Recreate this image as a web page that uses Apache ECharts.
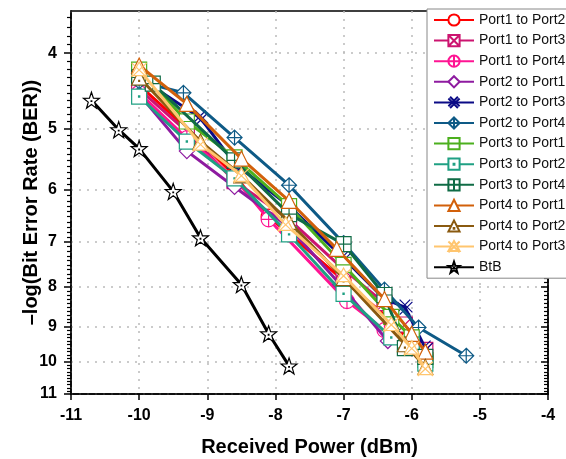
<!DOCTYPE html>
<html>
<head>
<meta charset="utf-8">
<script src="https://cdn.jsdelivr.net/npm/echarts@6/dist/echarts.min.js"></script>
<style>
html,body{margin:0;padding:0;background:#fff;}
#c{width:566px;height:459px;}
</style>
</head>
<body>
<div id="c"></div>
<script>
// ---- Data ----
var seriesNames = ['Port1 to Port2','Port1 to Port3','Port1 to Port4','Port2 to Port1','Port2 to Port3','Port2 to Port4','Port3 to Port1','Port3 to Port2','Port3 to Port4','Port4 to Port1','Port4 to Port2','Port4 to Port3','BtB'];

var p12 = [[-10,4.40],[-9.3,5.00],[-8.6,5.75],[-8.1,6.50],[-7.0,7.85],[-6.3,8.85],[-6.05,9.35],[-5.8,9.80]];
var p13 = [[-10,4.45],[-9.3,5.05],[-8.6,5.85],[-7.8,6.55],[-7.0,7.60],[-6.4,8.40],[-6.1,8.95],[-5.8,9.65]];
var p14 = [[-10,4.50],[-9.3,5.15],[-8.6,5.80],[-8.1,6.55],[-6.95,8.35],[-6.4,9.10],[-6.0,9.60],[-5.8,10.05]];
var p21 = [[-10,4.52],[-9.3,5.35],[-8.6,5.95],[-7.8,6.70],[-7.05,7.95],[-6.35,9.40],[-6.0,9.55],[-5.8,9.90]];
var p23 = [[-10,4.30],[-9.1,4.85],[-8.6,5.55],[-7.8,6.30],[-7.0,7.35],[-6.4,8.30],[-6.1,8.50],[-5.8,9.60]];
var p24 = [[-10,4.35],[-9.35,4.50],[-8.6,5.14],[-7.8,5.92],[-7.0,7.03],[-6.4,8.07],[-5.9,9.03],[-5.2,9.82]];
var p31 = [[-10,4.20],[-9.3,4.90],[-8.6,5.45],[-7.8,6.30],[-7.0,7.50],[-6.3,8.75],[-6.0,9.30],[-5.8,9.95]];
var p32 = [[-10,4.55],[-9.3,5.20],[-8.6,5.80],[-7.8,6.85],[-7.0,8.17],[-6.3,9.30],[-6.0,9.50],[-5.8,10.05]];
var p34 = [[-10,4.30],[-9.8,4.38],[-8.6,5.50],[-7.8,6.45],[-7.0,7.05],[-6.4,8.20],[-6.1,9.60],[-5.8,9.85]];
var p41 = [[-10,4.15],[-9.3,4.65],[-8.5,5.47],[-7.8,6.20],[-7.1,7.15],[-6.4,8.30],[-6.0,9.20],[-5.8,9.70]];
var p42 = [[-10,4.30],[-9.1,5.20],[-8.5,5.75],[-7.8,6.60],[-7.0,7.80],[-6.1,9.49],[-5.8,10.15]];
var p43 = [[-10,4.20],[-9.1,5.24],[-8.5,5.75],[-7.85,6.65],[-7.0,7.74],[-6.3,8.95],[-6.0,9.60],[-5.8,10.20]];
var btb = [[-10.7,4.60],[-10.3,5.02],[-10.0,5.31],[-9.5,6.03],[-9.1,6.92],[-8.5,7.95],[-8.1,9.20],[-7.8,10.12]];

var xTicks = [-11,-10,-9,-8,-7,-6,-5,-4];
var yTicks = [4,5,6,7,8,9,10,11];
var yMinorTicks = [3.6,3.7,3.8,3.9,4.1,4.2,4.3,4.4,4.5,4.6,4.7,4.8,4.9,5.1,5.2,5.3,5.4,5.5,5.6,5.7,5.8,5.9,6.1,6.2,6.3,6.4,6.5,6.6,6.7,6.8,6.9,7.1,7.2,7.3,7.4,7.5,7.6,7.7,7.8,7.9,8.1,8.2,8.3,8.4,8.5,8.6,8.7,8.8,8.9,9.1,9.2,9.3,9.4,9.5,9.6,9.7,9.8,9.9,10.1,10.2,10.3,10.4,10.5,10.6,10.7,10.8,10.9];

var allData = [p12,p13,p14,p21,p23,p24,p31,p32,p34,p41,p42,p43,btb];

// ---- Styles ----
var colors = ['#FF0000','#CC1470','#FF1493','#8E1BA0','#0B0B86','#0E5A86','#4CB01E','#1FA083','#0F6B45','#D2600A','#8A5A10','#FFC56E','#000000'];
var symbols = [
  'circle',
  'path://M0,0L10,0L10,10L0,10ZM0,0L10,10M10,0L0,10',
  'path://M0,5A5,5,0,1,1,10,5A5,5,0,1,1,0,5ZM5,0L5,10M0,5L10,5',
  'diamond',
  'path://M0,1.5L8.5,10M1.5,0L10,8.5M10,1.5L1.5,10M8.5,0L0,8.5',
  'path://M5,0L10,5L5,10L0,5ZM5,0L5,10M0,5L10,5',
  'path://M0,0L10,0L10,10L0,10ZM0,5L10,5',
  'path://M0,0L10,0L10,10L0,10ZM4.6,4.6L5.4,4.6L5.4,5.4L4.6,5.4Z',
  'path://M0,0L10,0L10,10L0,10ZM5,0L5,10M0,5L10,5',
  'triangle',
  'path://M5,0L10,9L0,9ZM4.7,6.2L5.3,6.2L5.3,6.8L4.7,6.8Z',
  'path://M5,0L10,9L0,9ZM0,0.5L10,10M10,0.5L0,10',
  'path://M5,0.25L6.18,3.63L9.76,3.7L6.9,5.87L7.94,9.3L5,7.25L2.06,9.3L3.1,5.87L0.24,3.7L3.82,3.63ZM4.8,5.1L5.2,5.1L5.2,5.5L4.8,5.5Z'
];

var series = seriesNames.map(function(n, i){
  return {
    name: n,
    type: 'line',
    data: allData[i],
    symbol: symbols[i],
    symbolSize: (i === 12) ? 16 : 15,
    showAllSymbol: true,
    lineStyle: { color: colors[i], width: 3 },
    itemStyle: { color: '#ffffff', borderColor: colors[i], borderWidth: 1.2 },
    emphasis: { disabled: true },
    z: 2 + i
  };
});

var font = 'Liberation Sans, Arial, sans-serif';
var yRangeMin = 3.53, yRangeMax = 11;

function yAxisBase(extra){
  var base = {
    type: 'log', logBase: 10, min: yRangeMin, max: yRangeMax, inverse: true,
    axisLine: { show: false, onZero: false },
    axisTick: { show: false },
    axisLabel: { show: false },
    splitLine: { show: false },
    minorTick: { show: false },
    minorSplitLine: { show: false }
  };
  for (var k in extra) base[k] = extra[k];
  return base;
}

var chart = echarts.init(document.getElementById('c'), null, { renderer: 'canvas' });
chart.setOption({
  animation: false,
  backgroundColor: '#ffffff',
  grid: { left: 71, right: 18, top: 11, bottom: 65, show: true, borderColor: '#000', borderWidth: 1.5, containLabel: false, outerBoundsMode: 'none' },
  legend: {
    orient: 'vertical', left: 427, top: 9,
    data: seriesNames,
    itemWidth: 40, itemHeight: 14, itemGap: 6.6,
    padding: [4, 40, 4, 6],
    backgroundColor: '#ffffff', borderColor: '#888', borderWidth: 1,
    textStyle: { fontFamily: font, fontSize: 14, color: '#111', lineHeight: 14 },
    z: 20
  },
  xAxis: [{
    type: 'value', min: -11, max: -4, interval: 1,
    name: 'Received Power (dBm)', nameLocation: 'middle', nameGap: 43, nameMoveOverlap: false,
    nameTextStyle: { fontFamily: font, fontSize: 20, fontWeight: 'bold', color: '#000' },
    axisLine: { show: true, onZero: false, lineStyle: { color: '#000', width: 1.5 } },
    axisTick: { show: true, inside: false, length: 6, lineStyle: { color: '#000', width: 1.5 } },
    axisLabel: { fontFamily: font, fontSize: 16, fontWeight: 'bold', color: '#000', margin: 14,
      formatter: function(v){ return xTicks.indexOf(v) >= 0 ? String(v) : ''; } },
    splitLine: { show: true, lineStyle: { color: '#bbbbbb', type: [2, 6], width: 1.5 } }
  }],
  yAxis: [
    yAxisBase({
      position: 'left',
      name: '\u2013log(Bit Error Rate (BER))', nameLocation: 'middle', nameGap: 30, nameMoveOverlap: false,
      nameTextStyle: { fontFamily: font, fontSize: 20, fontWeight: 'bold', color: '#000' },
      axisLine: { show: true, onZero: false, lineStyle: { color: '#000', width: 1.5 } },
      axisTick: { show: true, inside: false, length: 7, customValues: yTicks, lineStyle: { color: '#000', width: 1.5 } },
      axisLabel: { show: true, customValues: yTicks, fontFamily: font, fontSize: 16, fontWeight: 'bold', color: '#000', margin: 14 },
      splitLine: { show: true, lineStyle: { color: '#bbbbbb', type: [2, 6], width: 1.5 } }
    }),
    yAxisBase({
      position: 'left', offset: 0,
      axisTick: { show: true, inside: false, length: 4, customValues: yMinorTicks, lineStyle: { color: '#000', width: 1.2 } }
    }),
    yAxisBase({
      position: 'right', offset: 0,
      axisLine: { show: true, onZero: false, lineStyle: { color: '#000', width: 1.5 } },
      axisTick: { show: true, inside: true, length: 7, customValues: yTicks, lineStyle: { color: '#000', width: 1.5 } }
    }),
    yAxisBase({
      position: 'right', offset: 0,
      axisTick: { show: true, inside: true, length: 4, customValues: yMinorTicks, lineStyle: { color: '#000', width: 1.2 } }
    })
  ],
  series: series
});
</script>
</body>
</html>
